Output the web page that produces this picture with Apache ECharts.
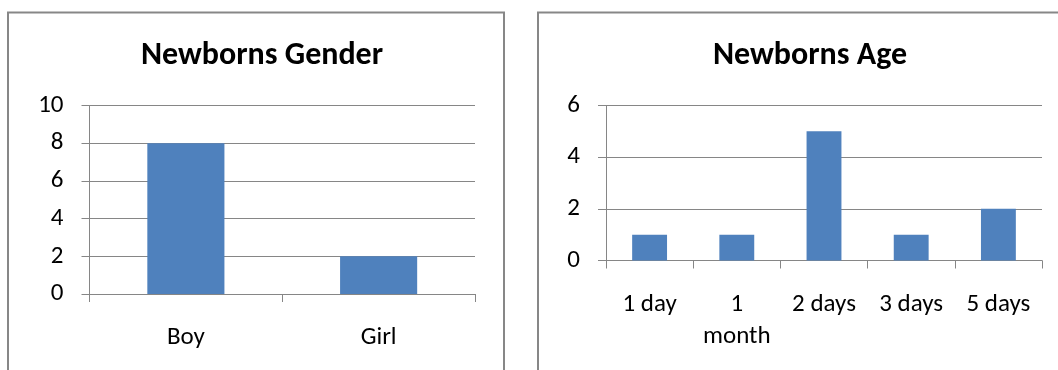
<!DOCTYPE html>
<html>
<head>
<meta charset="utf-8">
<script src="https://cdn.jsdelivr.net/npm/echarts@6/dist/echarts.min.js"></script>
<style>
  html, body { margin: 0; padding: 0; background: #fff; }
  #chart { width: 1058px; height: 370px; }
</style>
</head>
<body>
<div id="chart"></div>
<script>
// Newborns by gender
const genderCategories = ['Boy', 'Girl'];
const genderCounts = [8, 2];
const genderTicks = [0, 2, 4, 6, 8, 10];

// Newborns by age at admission
const ageCategories = ['1 day', '1 month', '2 days', '3 days', '5 days'];
const ageCounts = [1, 1, 5, 1, 2];
const ageTicks = [0, 2, 4, 6];

const FONT = 'Carlito, Lato, "Open Sans", sans-serif';
const AXIS_GRAY = '#868686';
const BAR_BLUE = '#4F81BD';

function xAxisFor(gridIndex, cats) {
  return {
    type: 'category',
    gridIndex,
    data: cats,
    axisLine: { show: true, lineStyle: { color: AXIS_GRAY, width: 1 } },
    axisTick: { show: true, alignWithLabel: false, length: 8, lineStyle: { color: AXIS_GRAY } },
    axisLabel: {
      margin: 28,
      fontFamily: FONT, fontSize: 25, color: '#000', lineHeight: 32,
      interval: 0,
      formatter: v => v.replace(' month', '\nmonth')
    },
    splitLine: { show: false }
  };
}

function yAxisFor(gridIndex, ticks) {
  const step = ticks[1] - ticks[0];
  return {
    type: 'value',
    gridIndex,
    min: ticks[0],
    max: ticks[ticks.length - 1],
    interval: step,
    axisLine: { show: true, lineStyle: { color: AXIS_GRAY, width: 1 } },
    axisTick: { show: true, length: 8, lineStyle: { color: AXIS_GRAY } },
    axisLabel: { margin: 26, fontFamily: FONT, fontSize: 25, color: '#000' },
    splitLine: { show: true, lineStyle: { color: AXIS_GRAY, width: 1 } }
  };
}

const chart = echarts.init(document.getElementById('chart'), null, { renderer: 'canvas' });
chart.setOption({
  animation: false,
  backgroundColor: '#fff',
  title: [
    { text: 'Newborns Gender', left: 257, top: 35, textAlign: 'center',
      textStyle: { fontFamily: FONT, fontSize: 32, fontWeight: 'bold', color: '#000' } },
    { text: 'Newborns Age', left: 805, top: 35, textAlign: 'center',
      textStyle: { fontFamily: FONT, fontSize: 32, fontWeight: 'bold', color: '#000' } }
  ],
  graphic: [
    { type: 'rect', shape: { x: 8, y: 12.5, width: 496, height: 380 },
      style: { fill: 'none', stroke: '#878787', lineWidth: 2 }, z: -1 },
    { type: 'rect', shape: { x: 538, y: 12.5, width: 540, height: 380 },
      style: { fill: 'none', stroke: '#878787', lineWidth: 2 }, z: -1 }
  ],
  grid: [
    { left: 89.5, top: 105.5, width: 385.5, height: 188.5 },
    { left: 606, top: 105.5, width: 436, height: 155 }
  ],
  xAxis: [xAxisFor(0, genderCategories), xAxisFor(1, ageCategories)],
  yAxis: [yAxisFor(0, genderTicks), yAxisFor(1, ageTicks)],
  series: [
    { type: 'bar', xAxisIndex: 0, yAxisIndex: 0, data: genderCounts,
      barWidth: '40%', itemStyle: { color: BAR_BLUE } },
    { type: 'bar', xAxisIndex: 1, yAxisIndex: 1, data: ageCounts,
      barWidth: '40%', itemStyle: { color: BAR_BLUE } }
  ]
});
</script>
</body>
</html>
